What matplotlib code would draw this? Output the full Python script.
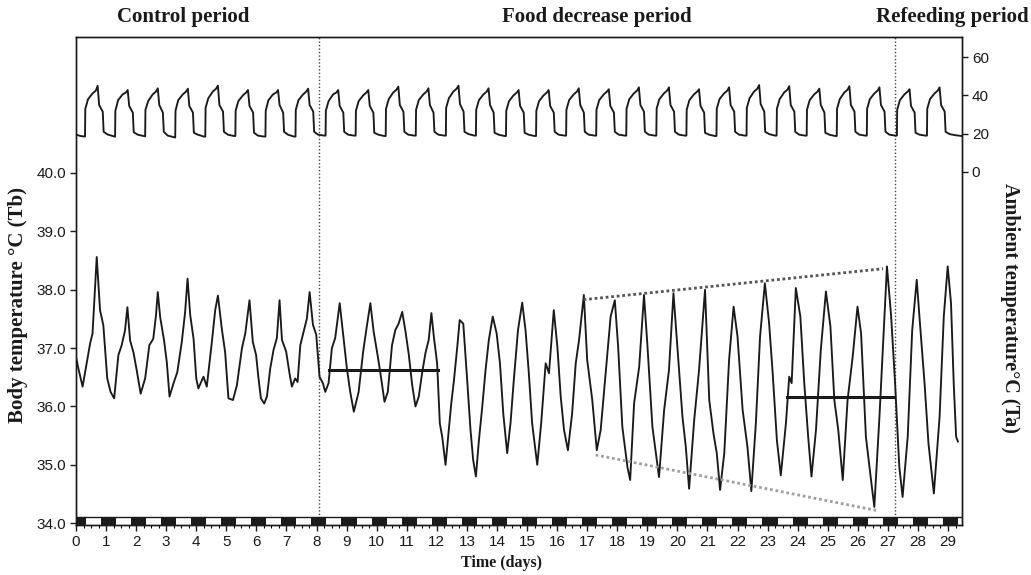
import numpy as np
import matplotlib.pyplot as plt
from matplotlib.patches import Rectangle
from matplotlib.ticker import MultipleLocator, FormatStrFormatter

plt.rcParams['font.family'] = ['Liberation Sans', 'DejaVu Sans']

# Temperatura corporal (Tb): dia, grados C
tb_day = [
    0.00, 0.08, 0.22, 0.36, 0.47, 0.55, 0.69, 0.80, 0.91, 1.04, 1.15, 1.27,
    1.41, 1.52, 1.63, 1.71, 1.80, 1.91, 2.02, 2.15, 2.30, 2.44, 2.57, 2.66,
    2.72, 2.80, 2.93, 3.02, 3.11, 3.24, 3.37, 3.52, 3.63, 3.71, 3.80, 3.91,
    4.00, 4.07, 4.24, 4.35, 4.52, 4.63, 4.72, 4.85, 4.96, 5.07, 5.22, 5.35,
    5.52, 5.63, 5.77, 5.88, 5.99, 6.07, 6.15, 6.26, 6.35, 6.46, 6.57, 6.68,
    6.77, 6.85, 6.99, 7.10, 7.18, 7.29, 7.37, 7.46, 7.57, 7.68, 7.77, 7.88,
    7.99, 8.10, 8.21, 8.29, 8.40, 8.51, 8.62, 8.77, 8.90, 9.01, 9.12, 9.24,
    9.40, 9.55, 9.68, 9.79, 9.90, 10.03, 10.15, 10.26, 10.37, 10.51, 10.62,
    10.73, 10.85, 10.96, 11.07, 11.18, 11.29, 11.40, 11.51, 11.62, 11.73,
    11.82, 11.90, 12.01, 12.10, 12.18, 12.29, 12.40, 12.48, 12.57, 12.68,
    12.76, 12.88, 13.01, 13.12, 13.21, 13.30, 13.40, 13.51, 13.62, 13.73,
    13.86, 13.99, 14.10, 14.21, 14.34, 14.45, 14.56, 14.70, 14.84, 14.95,
    15.06, 15.17, 15.34, 15.47, 15.62, 15.73, 15.89, 16.01, 16.12, 16.23,
    16.36, 16.50, 16.62, 16.73, 16.89, 17.00, 17.17, 17.32, 17.45, 17.62,
    17.78, 17.92, 18.03, 18.17, 18.34, 18.43, 18.56, 18.73, 18.89, 19.00,
    19.17, 19.39, 19.56, 19.72, 19.87, 20.00, 20.17, 20.28, 20.39, 20.56,
    20.72, 20.92, 21.06, 21.20, 21.31, 21.42, 21.56, 21.72, 21.87, 22.00,
    22.17, 22.33, 22.46, 22.61, 22.75, 22.91, 23.05, 23.17, 23.31, 23.44,
    23.61, 23.72, 23.80, 23.94, 24.09, 24.22, 24.35, 24.46, 24.61, 24.77,
    24.94, 25.09, 25.22, 25.35, 25.50, 25.66, 25.83, 25.99, 26.11, 26.27,
    26.44, 26.55, 26.72, 26.86, 26.97, 27.11, 27.24, 27.38, 27.49, 27.66,
    27.81, 27.96, 28.05, 28.22, 28.35, 28.53, 28.72, 28.86, 28.99, 29.10,
    29.19, 29.27, 29.33,
]
tb_val = [
    36.85, 36.65, 36.34, 36.76, 37.08, 37.25, 38.56, 37.65, 37.39, 36.48, 36.25, 36.14,
    36.88, 37.05, 37.30, 37.70, 37.13, 36.93, 36.62, 36.22, 36.48, 37.05, 37.16, 37.56,
    37.96, 37.53, 37.13, 36.76, 36.17, 36.39, 36.59, 37.11, 37.62, 38.19, 37.56, 37.16,
    36.48, 36.31, 36.51, 36.34, 37.11, 37.65, 37.90, 37.33, 36.93, 36.14, 36.11, 36.36,
    37.00, 37.25, 37.82, 37.11, 36.88, 36.48, 36.14, 36.05, 36.17, 36.65, 36.97, 37.17,
    37.82, 37.14, 36.94, 36.57, 36.34, 36.48, 36.42, 37.05, 37.28, 37.51, 37.96, 37.40,
    37.23, 36.51, 36.40, 36.25, 36.40, 37.00, 37.17, 37.77, 37.17, 36.65, 36.25, 35.91,
    36.25, 36.94, 37.40, 37.77, 37.28, 36.88, 36.48, 36.08, 36.25, 37.05, 37.31,
    37.42, 37.62, 37.28, 36.88, 36.37, 36.00, 36.17, 36.57, 36.91, 37.14,
    37.60, 37.20, 36.74, 35.71, 35.48, 35.00, 35.60, 36.05, 36.45, 37.02,
    37.48, 37.42, 36.45, 35.60, 35.08, 34.80, 35.42, 35.99, 36.62, 37.14,
    37.54, 37.25, 36.74, 35.88, 35.20, 35.71, 36.45, 37.31, 37.78, 37.31,
    36.57, 35.71, 35.00, 35.71, 36.74, 36.57, 37.65, 37.02, 36.17, 35.60,
    35.25, 35.88, 36.74, 37.14, 37.91, 36.80, 36.11, 35.25, 35.60, 36.60,
    37.54, 37.82, 37.02, 35.65, 34.96, 34.74, 36.05, 36.68, 37.91, 37.08,
    35.65, 34.79, 35.94, 36.62, 37.94, 37.02, 35.82, 35.31, 34.59, 35.77,
    36.62, 38.00, 36.11, 35.54, 35.20, 34.57, 35.20, 36.80, 37.71, 37.20,
    35.94, 35.31, 34.55, 35.71, 37.20, 38.11, 37.43, 36.57, 35.42, 34.82,
    35.71, 36.51, 36.40, 38.03, 37.54, 36.40, 35.48, 34.80, 35.60, 36.97,
    37.97, 37.37, 36.11, 35.60, 34.74, 36.11, 36.85, 37.71, 37.25, 35.48,
    34.74, 34.28, 35.82, 37.25, 38.40, 37.54, 36.40, 34.97, 34.45, 35.48,
    37.31, 38.17, 37.54, 36.40, 35.37, 34.51, 35.82, 37.54, 38.40, 37.77,
    36.40, 35.48, 35.40,
]

# Temperatura ambiente (Ta): dia, grados C
amb_day = [
    0.00, 0.15,
    0.30, 0.31, 0.40, 0.55, 0.66, 0.72, 0.77, 0.89, 0.92, 1.05, 1.25,
    1.30, 1.31, 1.40, 1.55, 1.66, 1.72, 1.77, 1.89, 1.92, 2.05, 2.25,
    2.30, 2.31, 2.40, 2.55, 2.66, 2.72, 2.77, 2.89, 2.92, 3.05, 3.25,
    3.30, 3.31, 3.40, 3.55, 3.66, 3.72, 3.77, 3.89, 3.92, 4.05, 4.25,
    4.30, 4.31, 4.40, 4.55, 4.66, 4.72, 4.77, 4.89, 4.92, 5.05, 5.25,
    5.30, 5.31, 5.40, 5.55, 5.66, 5.72, 5.77, 5.89, 5.92, 6.05, 6.25,
    6.30, 6.31, 6.40, 6.55, 6.66, 6.72, 6.77, 6.89, 6.92, 7.05, 7.25,
    7.30, 7.31, 7.40, 7.55, 7.66, 7.72, 7.77, 7.89, 7.92, 8.05, 8.25,
    8.30, 8.31, 8.40, 8.55, 8.66, 8.72, 8.77, 8.89, 8.92, 9.05, 9.25,
    9.30, 9.31, 9.40, 9.55, 9.66, 9.72, 9.77, 9.89, 9.92, 10.05, 10.25,
    10.30, 10.31, 10.40, 10.55, 10.66, 10.72, 10.77, 10.89, 10.92, 11.05, 11.25,
    11.30, 11.31, 11.40, 11.55, 11.66, 11.72, 11.77, 11.89, 11.92, 12.05, 12.25,
    12.30, 12.31, 12.40, 12.55, 12.66, 12.72, 12.77, 12.89, 12.92, 13.05, 13.25,
    13.30, 13.31, 13.40, 13.55, 13.66, 13.72, 13.77, 13.89, 13.92, 14.05, 14.25,
    14.30, 14.31, 14.40, 14.55, 14.66, 14.72, 14.77, 14.89, 14.92, 15.05, 15.25,
    15.30, 15.31, 15.40, 15.55, 15.66, 15.72, 15.77, 15.89, 15.92, 16.05, 16.25,
    16.30, 16.31, 16.40, 16.55, 16.66, 16.72, 16.77, 16.89, 16.92, 17.05, 17.25,
    17.30, 17.31, 17.40, 17.55, 17.66, 17.72, 17.77, 17.89, 17.92, 18.05, 18.25,
    18.30, 18.31, 18.40, 18.55, 18.66, 18.72, 18.77, 18.89, 18.92, 19.05, 19.25,
    19.30, 19.31, 19.40, 19.55, 19.66, 19.72, 19.77, 19.89, 19.92, 20.05, 20.25,
    20.30, 20.31, 20.40, 20.55, 20.66, 20.72, 20.77, 20.89, 20.92, 21.05, 21.25,
    21.30, 21.31, 21.40, 21.55, 21.66, 21.72, 21.77, 21.89, 21.92, 22.05, 22.25,
    22.30, 22.31, 22.40, 22.55, 22.66, 22.72, 22.77, 22.89, 22.92, 23.05, 23.25,
    23.30, 23.31, 23.40, 23.55, 23.66, 23.72, 23.77, 23.89, 23.92, 24.05, 24.25,
    24.30, 24.31, 24.40, 24.55, 24.66, 24.72, 24.77, 24.89, 24.92, 25.05, 25.25,
    25.30, 25.31, 25.40, 25.55, 25.66, 25.72, 25.77, 25.89, 25.92, 26.05, 26.25,
    26.30, 26.31, 26.40, 26.55, 26.66, 26.72, 26.77, 26.89, 26.92, 27.05, 27.25,
    27.30, 27.31, 27.40, 27.55, 27.66, 27.72, 27.77, 27.89, 27.92, 28.05, 28.25,
    28.30, 28.31, 28.40, 28.55, 28.66, 28.72, 28.77, 28.89, 28.92, 29.05, 29.25,
    29.45,
]
amb_val = [
    19.5, 18.8,
    18.5, 33.0, 38.0, 41.0, 42.5, 45.0, 35.0, 31.5, 21.0, 19.6, 18.6,
    18.4, 32.0, 37.5, 40.5, 41.5, 42.8, 34.5, 31.0, 20.8, 19.5, 18.8,
    18.6, 32.5, 37.0, 40.5, 42.0, 43.7, 35.0, 31.0, 21.0, 19.0, 18.2,
    18.0, 32.0, 37.5, 40.5, 42.0, 43.5, 34.5, 31.0, 20.5, 19.5, 18.5,
    18.5, 33.5, 38.5, 42.0, 43.5, 45.1, 35.0, 31.5, 21.0, 19.5, 18.8,
    18.8, 32.0, 37.0, 40.0, 41.5, 42.8, 34.5, 31.0, 20.5, 19.0, 18.5,
    18.5, 32.0, 37.5, 40.5, 41.5, 42.8, 35.0, 31.0, 21.0, 19.5, 18.5,
    18.5, 32.5, 37.5, 40.5, 42.0, 43.5, 35.0, 31.5, 21.0, 19.5, 19.0,
    19.0, 32.0, 37.0, 40.5, 41.5, 42.8, 34.5, 31.0, 21.0, 19.5, 19.0,
    19.0, 32.0, 37.0, 40.0, 41.5, 42.8, 34.5, 31.0, 20.5, 19.5, 18.8,
    18.8, 33.0, 38.0, 41.5, 43.0, 44.6, 35.0, 31.5, 21.0, 19.5, 19.0,
    19.0, 32.5, 37.5, 40.5, 42.0, 43.7, 35.0, 31.0, 21.0, 19.5, 19.0,
    19.0, 33.5, 38.5, 42.0, 43.5, 45.1, 35.5, 31.5, 21.0, 19.8, 19.0,
    19.0, 32.5, 37.5, 40.5, 42.0, 43.7, 35.0, 31.0, 20.5, 19.5, 18.8,
    18.8, 32.0, 37.0, 40.0, 41.5, 42.8, 34.5, 31.0, 20.5, 19.5, 18.8,
    18.8, 32.0, 37.0, 40.0, 41.5, 42.8, 34.5, 31.0, 21.0, 19.5, 19.0,
    19.0, 32.5, 37.5, 40.5, 42.0, 43.7, 35.0, 31.0, 21.0, 19.5, 19.0,
    19.0, 32.5, 37.5, 40.5, 42.0, 43.2, 34.5, 31.0, 21.0, 19.5, 19.0,
    19.0, 33.0, 38.0, 41.0, 42.5, 44.2, 35.0, 31.5, 21.0, 19.5, 19.0,
    19.0, 33.0, 38.0, 41.0, 42.5, 44.2, 35.0, 31.5, 21.0, 19.5, 19.0,
    19.0, 32.5, 37.5, 40.5, 42.0, 43.2, 34.5, 31.0, 20.5, 19.5, 18.8,
    18.8, 33.0, 38.0, 41.0, 42.5, 44.2, 35.0, 31.5, 21.0, 19.5, 19.0,
    19.0, 33.5, 38.5, 42.0, 43.5, 45.4, 35.5, 31.5, 21.0, 19.8, 19.0,
    19.0, 33.0, 38.0, 41.5, 43.0, 44.8, 35.0, 31.5, 21.0, 19.5, 19.0,
    19.0, 32.5, 37.5, 40.5, 42.0, 43.5, 35.0, 31.0, 20.5, 19.5, 18.8,
    18.8, 33.0, 38.0, 41.5, 43.0, 44.8, 35.0, 31.5, 21.0, 19.5, 19.0,
    19.0, 33.0, 38.0, 41.0, 42.5, 44.2, 35.0, 31.5, 21.0, 19.5, 19.0,
    19.0, 32.5, 37.5, 40.5, 42.0, 43.2, 34.5, 31.0, 20.5, 19.5, 19.0,
    19.0, 33.0, 38.0, 41.0, 42.5, 44.2, 35.0, 31.5, 21.0, 19.8, 19.2,
    18.8,
]

# Fases de oscuridad (inicio de cada noche, en dias), duracion 0.5 dia
dark_start = [
    -0.17, 0.83, 1.83, 2.83, 3.83, 4.83, 5.83, 6.83, 7.83, 8.83,
    9.83, 10.83, 11.83, 12.83, 13.83, 14.83, 15.83, 16.83, 17.83, 18.83,
    19.83, 20.83, 21.83, 22.83, 23.83, 24.83, 25.83, 26.83, 27.83, 28.83,
]
dark_len = 0.5

# Limites de periodos y lineas auxiliares
period_bounds = [8.07, 27.25]
period_names = ['Control period', 'Food decrease period', 'Refeeding period']
upper_env_day, upper_env_val = [16.88, 26.84], [37.83, 38.36]
lower_env_day, lower_env_val = [17.28, 26.61], [35.17, 34.22]
mean1_day, mean1_val = [8.40, 12.03], [36.62, 36.62]
mean2_day, mean2_val = [23.64, 27.16], [36.17, 36.17]

xmax = 29.47

fig = plt.figure(figsize=(10.31, 5.75), dpi=100)
ax = fig.add_axes([0.0737, 0.087, 0.8595, 0.8487])
ax2 = ax.twinx()

# Tb
ax.plot(tb_day, tb_val, color='#1a1a1a', lw=1.35, zorder=3)
ax.plot(upper_env_day, upper_env_val, color='#555555', lw=2, ls=(0, (1, 1)), zorder=4)
ax.plot(lower_env_day, lower_env_val, color='#a0a0a0', lw=2, ls=(0, (1, 1)), zorder=4)
ax.plot(mean1_day, mean1_val, color='#1a1a1a', lw=2.2, zorder=4)
ax.plot(mean2_day, mean2_val, color='#1a1a1a', lw=2.2, zorder=4)

for b in period_bounds:
    ax.axvline(b, color='#444444', lw=1.0, ls=(0, (1, 1.5)), zorder=2)

# barra luz/oscuridad
ax.add_patch(Rectangle((0, 33.97), xmax, 0.14, facecolor='white',
                       edgecolor='#1a1a1a', lw=1.0, zorder=5, clip_on=True))
ax.broken_barh([(s, dark_len) for s in dark_start], (33.97, 0.14),
               facecolors='#1a1a1a', zorder=6)

ax.set_xlim(0, xmax)
ax.set_ylim(33.97, 42.33)
ax.set_yticks([34, 35, 36, 37, 38, 39, 40])
ax.yaxis.set_major_formatter(FormatStrFormatter('%.1f'))
ax.set_xticks(range(0, 30))
ax.xaxis.set_minor_locator(MultipleLocator(0.25))
ax.tick_params(axis='both', which='major', direction='out', length=4, width=1,
               labelsize=11, colors='#1a1a1a', pad=3)
ax.tick_params(axis='x', which='minor', direction='out', length=2, width=0.8)

# Ta
ax2.plot(amb_day, amb_val, color='#1a1a1a', lw=1.35)
ax2.set_ylim(-184.3, 70.5)
ax2.set_yticks([0, 20, 40, 60])
ax2.tick_params(axis='y', direction='out', length=4, width=1, labelsize=11,
                colors='#1a1a1a', pad=3)
ax2.set_xlim(0, xmax)

for a in (ax, ax2):
    for s in a.spines.values():
        s.set_linewidth(1.0)
        s.set_color('#1a1a1a')

serif = ['Liberation Serif', 'DejaVu Serif']
fig.text(0.178, 0.970, period_names[0], family=serif, weight='bold', fontsize=15,
         ha='center', va='center', color='#1a1a1a')
fig.text(0.579, 0.970, period_names[1], family=serif, weight='bold', fontsize=15,
         ha='center', va='center', color='#1a1a1a')
fig.text(0.998, 0.970, period_names[2], family=serif, weight='bold', fontsize=15,
         ha='right', va='center', color='#1a1a1a')

fig.text(0.017, 0.47, 'Body temperature °C (Tb)', family=serif, weight='bold',
         fontsize=15, rotation=90, ha='center', va='center', color='#1a1a1a')
fig.text(0.980, 0.465, 'Ambient temperature°C (Ta)', family=serif, weight='bold',
         fontsize=14.5, rotation=-90, ha='center', va='center', color='#1a1a1a')
fig.text(0.486, 0.021, 'Time (days)', family=serif, weight='bold', fontsize=11.5,
         ha='center', va='center', color='#1a1a1a')

fig.savefig('out.png', dpi=100)
